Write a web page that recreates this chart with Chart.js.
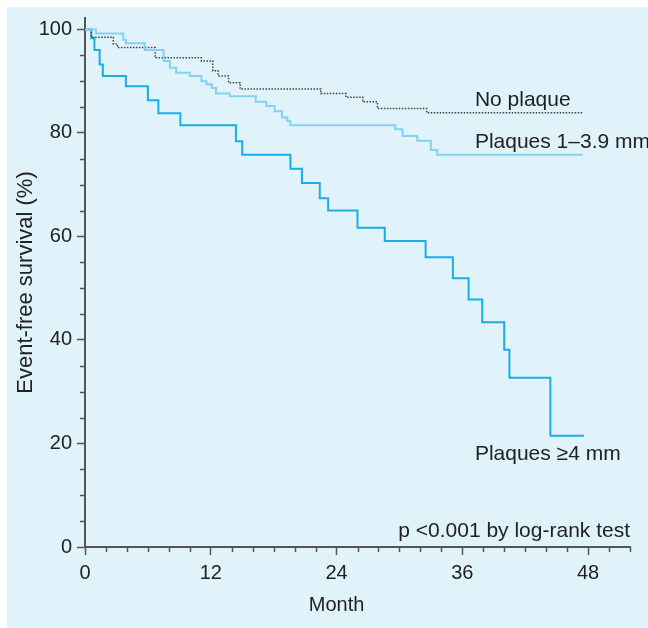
<!DOCTYPE html>
<html>
<head>
<meta charset="utf-8">
<script src="https://cdn.jsdelivr.net/npm/chart.js@4.4.1/dist/chart.umd.min.js"></script>
<style>
  html, body { margin: 0; padding: 0; background: #fff; }
</style>
</head>
<body>
<canvas id="kmChart" width="648" height="628"></canvas>
<script>
// Kaplan-Meier steps: month of each drop, survival (%) after it
const noPlaqueMonths = [0, 0.6, 2.7, 3.1, 6.7, 11.1, 12.2, 12.7, 13.7, 14.8, 22.5, 24.9, 26.5, 27.9, 32.6, 47.5];
const noPlaqueSurvival = [100, 98.5, 97.2, 96.5, 94.5, 93.9, 92.0, 91.0, 89.7, 88.5, 87.6, 86.9, 86.0, 84.7, 83.9, 83.9];

const smallPlaqueMonths = [0, 1.05, 3.65, 3.9, 5.7, 7.5, 8.1, 8.7, 10.0, 11.1, 11.6, 12.1, 12.5, 13.8, 16.3, 17.3, 18.1, 18.8, 19.3, 19.6, 29.6, 30.3, 31.7, 33.0, 33.6, 47.5];
const smallPlaqueSurvival = [100, 99.2, 98.0, 97.3, 96.0, 93.9, 92.6, 91.6, 91.0, 90.0, 89.4, 88.7, 87.6, 87.1, 86.0, 85.2, 84.2, 83.0, 82.3, 81.5, 80.7, 79.4, 78.5, 76.7, 75.8, 75.8];

const largePlaqueMonths = [0, 0.6, 0.9, 1.4, 1.7, 3.9, 6.0, 7.0, 9.1, 14.4, 15.0, 19.6, 20.7, 22.4, 23.2, 26.0, 28.6, 32.5, 35.1, 36.6, 37.9, 40.0, 40.5, 44.4, 47.6];
const largePlaqueSurvival = [100, 98.3, 96.0, 93.2, 91.0, 89.0, 86.3, 83.8, 81.5, 78.4, 75.8, 73.1, 70.3, 67.4, 65.0, 61.7, 59.1, 56.0, 51.9, 47.8, 43.4, 38.1, 32.7, 21.5, 21.5];

const xTicks = [0, 12, 24, 36, 48];
const xMinorTicks = [2, 4, 6, 8, 10, 14, 16, 18, 20, 22, 26, 28, 30, 32, 34, 38, 40, 42, 44, 46, 50, 52];
const yTicks = [0, 20, 40, 60, 80, 100];
const yMinorTicks = [5, 10, 15, 25, 30, 35, 45, 50, 55, 65, 70, 75, 85, 90, 95];

// curve labels: text, month, survival (anchor in data units)
const curveLabels = [
  { text: 'No plaque', x: 37.2, y: 85.2, align: 'left' },
  { text: 'Plaques 1\u20133.9 mm', x: 37.2, y: 77.1, align: 'left' },
  { text: 'Plaques \u22654 mm', x: 37.2, y: 16.8, align: 'left' },
  { text: 'p <0.001 by log-rank test', x: 52, y: 1.9, align: 'right' }
];
const xTitle = 'Month';
const xTitleAt = 24;

const FONT = '"Liberation Sans", Arial, Helvetica, sans-serif';
const AXIS_COLOR = '#555';
const TEXT_COLOR = '#222';

function toPoints(months, values) {
  return months.map((m, i) => ({ x: m, y: values[i] }));
}

const panelPlugin = {
  id: 'panel',
  beforeDraw(chart) {
    const c = chart.ctx;
    c.save();
    c.fillStyle = '#e0f2fa';
    c.fillRect(7, 7, chart.width - 7, chart.height - 7);
    c.restore();
  }
};

const extrasPlugin = {
  id: 'extras',
  afterDraw(chart) {
    const c = chart.ctx;
    const xs = chart.scales.x;
    const ys = chart.scales.y;
    const area = chart.chartArea;
    c.save();
    c.strokeStyle = AXIS_COLOR;
    c.lineWidth = 1.5;
    xMinorTicks.forEach(m => {
      const px = Math.round(xs.getPixelForValue(m)) + 0.5;
      c.beginPath();
      c.moveTo(px, area.bottom);
      c.lineTo(px, area.bottom + 5);
      c.stroke();
    });
    yMinorTicks.forEach(v => {
      const py = Math.round(ys.getPixelForValue(v)) + 0.5;
      c.beginPath();
      c.moveTo(area.left - 5, py);
      c.lineTo(area.left, py);
      c.stroke();
    });

    c.fillStyle = TEXT_COLOR;
    c.font = '21px ' + FONT;
    c.textBaseline = 'alphabetic';
    curveLabels.forEach(l => {
      c.textAlign = l.align;
      c.fillText(l.text, xs.getPixelForValue(l.x), ys.getPixelForValue(l.y));
    });

    // x title sits under the 24-month tick, not under the full axis
    c.font = '20px ' + FONT;
    c.textAlign = 'center';
    c.textBaseline = 'middle';
    c.fillText(xTitle, xs.getPixelForValue(xTitleAt), chart.height - 23);
    c.restore();
  }
};

const ctx = document.getElementById('kmChart').getContext('2d');
const kmChart = new Chart(ctx, {
  type: 'line',
  data: {
    datasets: [
      {
        label: 'Plaques 1\u20133.9 mm',
        data: toPoints(smallPlaqueMonths, smallPlaqueSurvival),
        borderColor: '#84d2f2',
        borderWidth: 2,
        stepped: true,
        pointRadius: 0
      },
      {
        label: 'No plaque',
        data: toPoints(noPlaqueMonths, noPlaqueSurvival),
        borderColor: '#444',
        borderWidth: 1.5,
        borderDash: [1.5, 1.5],
        stepped: true,
        pointRadius: 0
      },
      {
        label: 'Plaques \u22654 mm',
        data: toPoints(largePlaqueMonths, largePlaqueSurvival),
        borderColor: '#1aaee6',
        borderWidth: 2,
        stepped: true,
        pointRadius: 0
      }
    ]
  },
  options: {
    responsive: false,
    animation: false,
    layout: { padding: { left: 0, top: 18, right: 18, bottom: 0 } },
    plugins: {
      legend: { display: false },
      tooltip: { enabled: false }
    },
    scales: {
      x: {
        type: 'linear',
        min: 0,
        max: 52,
        afterBuildTicks: s => { s.ticks = xTicks.map(v => ({ value: v })); },
        afterFit: s => { s.height = 81; },
        grid: { drawOnChartArea: false, tickLength: 8, tickColor: AXIS_COLOR, tickWidth: 1.5 },
        border: { color: AXIS_COLOR, width: 2 },
        ticks: { color: TEXT_COLOR, font: { family: FONT, size: 20 }, padding: 6, maxRotation: 0 },
        title: { display: false }
      },
      y: {
        type: 'linear',
        min: 0,
        max: 102.2,
        afterBuildTicks: s => { s.ticks = yTicks.map(v => ({ value: v })); },
        afterFit: s => { s.width = 85; },
        grid: { drawOnChartArea: false, tickLength: 8, tickColor: AXIS_COLOR, tickWidth: 1.5 },
        border: { color: AXIS_COLOR, width: 2 },
        ticks: { color: TEXT_COLOR, font: { family: FONT, size: 20 }, padding: 5 },
        title: { display: true, text: 'Event-free survival (%)', color: TEXT_COLOR, font: { family: FONT, size: 22 }, padding: { top: 13, bottom: 0 } }
      }
    }
  },
  plugins: [panelPlugin, extrasPlugin]
});
</script>
</body>
</html>
